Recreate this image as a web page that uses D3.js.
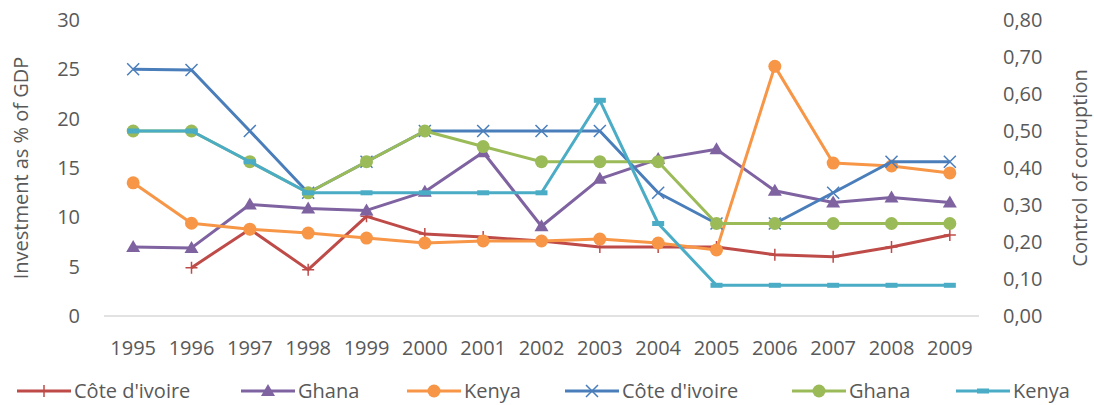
<!DOCTYPE html>
<html>
<head>
<meta charset="utf-8">
<script src="https://cdn.jsdelivr.net/npm/d3@7"></script>
<style>
  body { margin: 0; background: #fff; }
  svg { display: block; font-family: "Open Sans", sans-serif; }
  .tick text { fill: #595959; }
</style>
</head>
<body>
<svg id="chart" width="1094" height="405"></svg>
<script>
// years on the x axis
var years = ["1995", "1996", "1997", "1998", "1999", "2000", "2001", "2002",
  "2003", "2004", "2005", "2006", "2007", "2008", "2009"];

// investment as % of GDP (left axis)
var invCiv = [null, 4.9, 8.8, 4.7, 10.1, 8.3, 8.0, 7.6, 7.0, 7.0, 7.0, 6.2, 6.0, 7.0, 8.2];
var invGhana = [7.0, 6.9, 11.3, 10.9, 10.7, 12.6, 16.6, 9.1, 13.9, 15.9, 16.9, 12.7, 11.5, 12.0, 11.5];
var invKenya = [13.5, 9.4, 8.8, 8.4, 7.9, 7.4, 7.6, 7.6, 7.8, 7.4, 6.7, 25.3, 15.5, 15.2, 14.5];

// control of corruption (right axis)
var ccCiv = [0.667, 0.665, 0.50, 0.333, 0.417, 0.50, 0.50, 0.50, 0.50, 0.333, 0.25, 0.25, 0.333, 0.417, 0.417];
var ccGhana = [0.50, 0.50, 0.417, 0.333, 0.417, 0.50, 0.458, 0.417, 0.417, 0.417, 0.25, 0.25, 0.25, 0.25, 0.25];
var ccKenya = [0.50, 0.50, 0.417, 0.333, 0.333, 0.333, 0.333, 0.333, 0.583, 0.25, 0.083, 0.083, 0.083, 0.083, 0.083];

var leftTicks = [0, 5, 10, 15, 20, 25, 30];
var rightTicks = [0, 0.1, 0.2, 0.3, 0.4, 0.5, 0.6, 0.7, 0.8];

var series = [
  { name: "Côte d'ivoire", values: invCiv, axis: "left", color: "#BE4B48", marker: "plus" },
  { name: "Ghana", values: invGhana, axis: "left", color: "#7F63A1", marker: "triangle" },
  { name: "Kenya", values: invKenya, axis: "left", color: "#F79646", marker: "circle" },
  { name: "Côte d'ivoire", values: ccCiv, axis: "right", color: "#4A7EBB", marker: "cross" },
  { name: "Ghana", values: ccGhana, axis: "right", color: "#9BBB59", marker: "circle" },
  { name: "Kenya", values: ccKenya, axis: "right", color: "#4BACC6", marker: "dash" }
];

var svg = d3.select("#chart");
var margin = { top: 20, right: 115, bottom: 89, left: 104 };
var width = 1094 - margin.left - margin.right;
var height = 405 - margin.top - margin.bottom;
var g = svg.append("g").attr("transform", `translate(${margin.left},${margin.top})`);

var x = d3.scaleBand().domain(years).range([0, width]);
var yLeft = d3.scaleLinear().domain([0, 30]).range([height, 0]);
var yRight = d3.scaleLinear().domain([0, 0.8]).range([height, 0]);

// baseline
g.append("line")
  .attr("x1", 0).attr("x2", width)
  .attr("y1", height).attr("y2", height)
  .attr("stroke", "#d9d9d9").attr("stroke-width", 1.5);

var axLeft = g.append("g")
  .call(d3.axisLeft(yLeft).tickValues(leftTicks).tickSize(0).tickPadding(24));
var axRight = g.append("g")
  .attr("transform", `translate(${width},0)`)
  .call(d3.axisRight(yRight).tickValues(rightTicks).tickSize(0).tickPadding(24)
    .tickFormat(d => d3.format(".2f")(d).replace(".", ",")));
var axBottom = g.append("g")
  .attr("transform", `translate(0,${height})`)
  .call(d3.axisBottom(x).tickSize(0).tickPadding(25));

[axLeft, axRight, axBottom].forEach(function (a) {
  a.select(".domain").remove();
  a.selectAll("text").attr("font-size", 20).attr("font-family", "Open Sans");
});

// axis titles
svg.append("text")
  .attr("transform", `translate(28,${margin.top + height / 2}) rotate(-90)`)
  .attr("text-anchor", "middle")
  .attr("font-size", 20).attr("fill", "#595959")
  .text("Investment as % of GDP");
svg.append("text")
  .attr("transform", `translate(1087,${margin.top + height / 2}) rotate(-90)`)
  .attr("text-anchor", "middle")
  .attr("font-size", 20).attr("fill", "#595959")
  .text("Control of corruption");

function drawMarker(sel, type, color) {
  if (type === "circle") {
    sel.append("circle").attr("r", 6.5).attr("fill", color);
  } else if (type === "triangle") {
    sel.append("path").attr("d", "M0,-7L7,5L-7,5Z").attr("fill", color);
  } else if (type === "plus") {
    sel.append("path").attr("d", "M-6,0H6M0,-6V6")
      .attr("stroke", color).attr("stroke-width", 1.5).attr("fill", "none");
  } else if (type === "cross") {
    sel.append("path").attr("d", "M-6,-6L6,6M-6,6L6,-6")
      .attr("stroke", color).attr("stroke-width", 1.5).attr("fill", "none");
  } else if (type === "dash") {
    sel.append("rect").attr("x", -6).attr("y", -2.5).attr("width", 12).attr("height", 5)
      .attr("fill", color);
  }
}

series.forEach(function (s) {
  var yScale = s.axis === "left" ? yLeft : yRight;
  var pts = years.map((yr, i) => ({ yr: yr, v: s.values[i] })).filter(d => d.v != null);
  var line = d3.line()
    .x(d => x(d.yr) + x.bandwidth() / 2)
    .y(d => yScale(d.v));
  g.append("path")
    .datum(pts)
    .attr("d", line)
    .attr("fill", "none")
    .attr("stroke", s.color)
    .attr("stroke-width", 3)
    .attr("stroke-linejoin", "round");
  g.append("g").selectAll("g")
    .data(pts)
    .join("g")
    .attr("transform", d => `translate(${x(d.yr) + x.bandwidth() / 2},${yScale(d.v)})`)
    .each(function () { drawMarker(d3.select(this), s.marker, s.color); });
});

// legend
var legendX = [17, 241, 407, 565, 792, 956];
var legend = svg.append("g").attr("transform", "translate(0,391)");
series.forEach(function (s, i) {
  var item = legend.append("g").attr("transform", `translate(${legendX[i]},0)`);
  item.append("line").attr("x1", 0).attr("x2", 54).attr("y1", 0).attr("y2", 0)
    .attr("stroke", s.color).attr("stroke-width", 3);
  drawMarker(item.append("g").attr("transform", "translate(27,0)"), s.marker, s.color);
  item.append("text").attr("x", 57).attr("y", 0).attr("dy", "0.35em")
    .attr("font-size", 20).attr("fill", "#595959")
    .text(s.name);
});
</script>
</body>
</html>
